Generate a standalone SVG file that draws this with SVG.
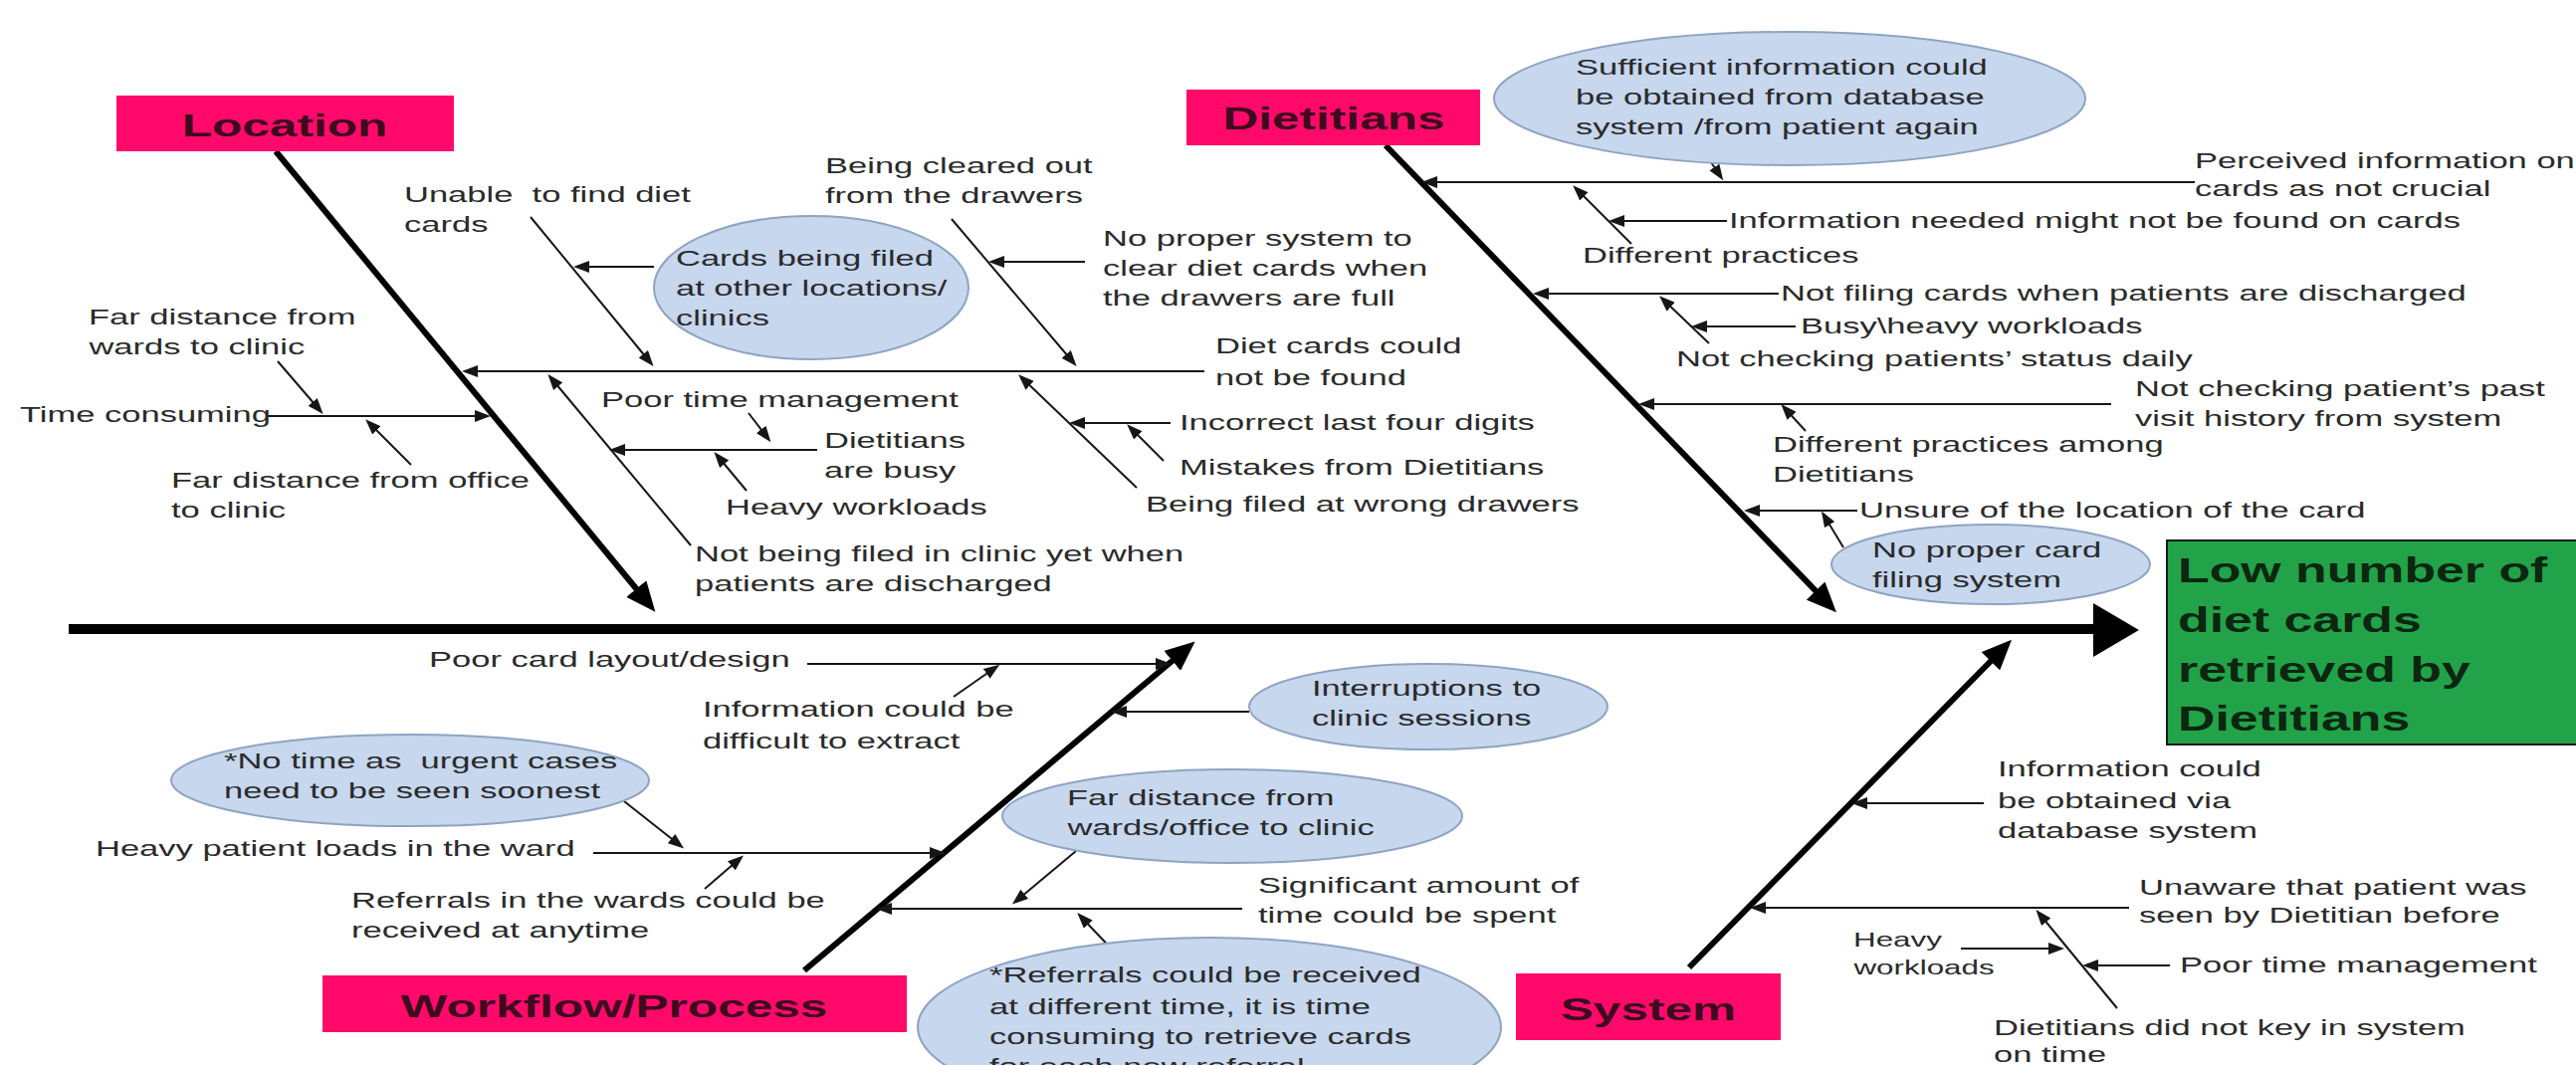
<svg xmlns="http://www.w3.org/2000/svg" width="2588" height="1070" viewBox="0 0 2588 1070">
<defs>
<style>
.t{font-family:"Liberation Sans",Arial,sans-serif;font-size:22px;fill:#2a2a2a;transform-box:fill-box;transform-origin:0 0;transform:scaleX(1.57);}
.s{font-size:20px;}
.h{font-family:"Liberation Sans",Arial,sans-serif;font-size:32px;font-weight:bold;fill:#3e0a1e;text-anchor:middle;transform-box:fill-box;transform-origin:50% 0;transform:scaleX(1.55);}
.g{font-family:"Liberation Sans",Arial,sans-serif;font-size:36px;font-weight:bold;fill:#0c2610;transform-box:fill-box;transform-origin:0 0;transform:scaleX(1.44);}
.box{fill:#ff0a6a;}
.ell{fill:#c6d7ee;stroke:#8fa3c2;stroke-width:2;}
.ln{stroke:#161616;stroke-width:2;fill:none;marker-end:url(#ah);}
.thick{stroke:#000;stroke-width:6;fill:none;marker-end:url(#bh);}
</style>
<marker id="ah" markerUnits="userSpaceOnUse" markerWidth="16" markerHeight="12" refX="12" refY="6" orient="auto"><path d="M0,0 L16,6 L0,12 z" fill="#161616"/></marker>
<marker id="bh" markerUnits="userSpaceOnUse" markerWidth="30" markerHeight="26" refX="20" refY="13" orient="auto"><path d="M0,0 L30,13 L0,26 z" fill="#000"/></marker>
</defs>
<rect x="0" y="0" width="2588" height="1070" fill="#fff"/>

<g id="connectors">
<line x1="69" y1="632" x2="2105" y2="632" stroke="#000" stroke-width="10"/>
<polygon points="2103,606 2149,633 2103,660" fill="#000"/>
<path class="thick" d="M277,152 L652,607"/>
<path class="thick" d="M1392,146 L1838,608"/>
<path class="thick" d="M808,975 L1193,651"/>
<path class="thick" d="M1697,972 L2014,650"/>
<path class="ln" d="M1210,373 L468,373"/>
<path class="ln" d="M533,218 L654,365"/>
<path class="ln" d="M657,268 L580,268"/>
<path class="ln" d="M956,220 L1079,365"/>
<path class="ln" d="M1090,263 L997,263"/>
<path class="ln" d="M268,418 L489,418"/>
<path class="ln" d="M279,363 L322,413"/>
<path class="ln" d="M413,467 L370,424"/>
<path class="ln" d="M694,548 L553,379"/>
<path class="ln" d="M821,452 L616,452"/>
<path class="ln" d="M752,415 L772,441"/>
<path class="ln" d="M750,493 L720,457"/>
<path class="ln" d="M1142,490 L1026,379"/>
<path class="ln" d="M1176,425 L1078,425"/>
<path class="ln" d="M1169,463 L1135,429"/>
<path class="ln" d="M2205,183 L1432,183"/>
<path class="ln" d="M1717,160 L1729,178"/>
<path class="ln" d="M1639,245 L1583,189"/>
<path class="ln" d="M1735,222 L1620,222"/>
<path class="ln" d="M1787,295 L1544,295"/>
<path class="ln" d="M1804,328 L1703,328"/>
<path class="ln" d="M1717,345 L1670,300"/>
<path class="ln" d="M2121,406 L1650,406"/>
<path class="ln" d="M1814,433 L1792,409"/>
<path class="ln" d="M1866,513 L1756,513" stroke-width="3"/>
<path class="ln" d="M1852,550 L1832,517"/>
<path class="ln" d="M811,667 L1173,667"/>
<path class="ln" d="M958,700 L1001,670"/>
<path class="ln" d="M1255,715 L1120,715"/>
<path class="ln" d="M596,857 L946,857"/>
<path class="ln" d="M627,805 L684,850"/>
<path class="ln" d="M708,893 L744,862"/>
<path class="ln" d="M1248,913 L884,913"/>
<path class="ln" d="M1081,855 L1020,906"/>
<path class="ln" d="M1123,960 L1085,920"/>
<path class="ln" d="M1993,807 L1864,807"/>
<path class="ln" d="M2139,912 L1762,912"/>
<path class="ln" d="M1970,953 L2070,953"/>
<path class="ln" d="M2180,970 L2096,970"/>
<path class="ln" d="M2127,1013 L2048,917"/>
</g>

<g id="location"><rect class="box" x="117" y="96" width="339" height="56"/><text class="h" x="286" y="137">Location</text></g>
<g id="dietitians"><rect class="box" x="1192" y="90" width="295" height="56"/><text class="h" x="1340" y="130">Dietitians</text></g>
<g id="workflow"><rect class="box" x="324" y="980" width="587" height="57"/><text class="h" x="617" y="1022">Workflow/Process</text></g>
<g id="system"><rect class="box" x="1523" y="978" width="266" height="67"/><text class="h" x="1656" y="1025">System</text></g>
<g id="effect"><rect x="2177" y="543" width="420" height="205" fill="#22a34a" stroke="#1a1a1a" stroke-width="2"/>
<text class="g" x="2188" y="585">Low number of</text><text class="g" x="2188" y="635">diet cards</text><text class="g" x="2188" y="685">retrieved by</text><text class="g" x="2188" y="734">Dietitians</text></g>

<g id="l-unable"><text class="t" x="406" y="203" xml:space="preserve">Unable  to find diet</text><text class="t" x="406" y="233">cards</text></g>
<g id="l-cleared"><text class="t" x="829" y="174">Being cleared out</text><text class="t" x="829" y="204">from the drawers</text></g>
<g id="l-nosystem"><text class="t" x="1108" y="247">No proper system to</text><text class="t" x="1108" y="277">clear diet cards when</text><text class="t" x="1108" y="307">the drawers are full</text></g>
<g id="l-cardsfiled"><ellipse class="ell" cx="815" cy="289" rx="158" ry="72"/><text class="t" x="679" y="267">Cards being filed</text><text class="t" x="679" y="297">at other locations/</text><text class="t" x="679" y="327">clinics</text></g>
<g id="l-farwards"><text class="t" x="89" y="326">Far distance from</text><text class="t" x="89" y="356">wards to clinic</text></g>
<g id="l-dietcards"><text class="t" x="1221" y="355">Diet cards could</text><text class="t" x="1221" y="387">not be found</text></g>
<g id="l-time"><text class="t" x="20" y="424">Time consuming</text></g>
<g id="l-poortime"><text class="t" x="604" y="409">Poor time management</text></g>
<g id="l-busy"><text class="t" x="828" y="450">Dietitians</text><text class="t" x="828" y="480">are busy</text></g>
<g id="l-incorrect"><text class="t" x="1185" y="432">Incorrect last four digits</text></g>
<g id="l-mistakes"><text class="t" x="1185" y="477">Mistakes from Dietitians</text></g>
<g id="l-faroffice"><text class="t" x="172" y="490">Far distance from office</text><text class="t" x="172" y="520">to clinic</text></g>
<g id="l-heavy"><text class="t" x="729" y="517">Heavy workloads</text></g>
<g id="l-wrong"><text class="t" x="1151" y="514">Being filed at wrong drawers</text></g>
<g id="l-notfiled"><text class="t" x="698" y="564">Not being filed in clinic yet when</text><text class="t" x="698" y="594">patients are discharged</text></g>

<g id="d-sufficient"><ellipse class="ell" cx="1798" cy="99" rx="297" ry="67"/><text class="t" x="1583" y="75">Sufficient information could</text><text class="t" x="1583" y="105">be obtained from database</text><text class="t" x="1583" y="135">system /from patient again</text></g>
<g id="d-perceived"><text class="t" x="2205" y="169">Perceived information on</text><text class="t" x="2205" y="197">cards as not crucial</text></g>
<g id="d-infoneeded"><text class="t" x="1737" y="229">Information needed might not be found on cards</text></g>
<g id="d-diffprac"><text class="t" x="1590" y="264">Different practices</text></g>
<g id="d-notfiling"><text class="t" x="1789" y="302">Not filing cards when patients are discharged</text></g>
<g id="d-busy"><text class="t" x="1809" y="335">Busy\heavy workloads</text></g>
<g id="d-daily"><text class="t" x="1684" y="368">Not checking patients’ status daily</text></g>
<g id="d-past"><text class="t" x="2145" y="398">Not checking patient’s past</text><text class="t" x="2145" y="428">visit history from system</text></g>
<g id="d-among"><text class="t" x="1781" y="454">Different practices among</text><text class="t" x="1781" y="484">Dietitians</text></g>
<g id="d-unsure"><text class="t" x="1868" y="520">Unsure of the location of the card</text></g>
<g id="d-noproper"><ellipse class="ell" cx="2000" cy="567" rx="160" ry="40"/><text class="t" x="1881" y="560">No proper card</text><text class="t" x="1881" y="590">filing system</text></g>

<g id="w-layout"><text class="t" x="431" y="670">Poor card layout/design</text></g>
<g id="w-extract"><text class="t" x="706" y="720">Information could be</text><text class="t" x="706" y="752">difficult to extract</text></g>
<g id="w-interrupt"><ellipse class="ell" cx="1435" cy="710" rx="180" ry="43"/><text class="t" x="1318" y="699">Interruptions to</text><text class="t" x="1318" y="729">clinic sessions</text></g>
<g id="w-notime"><ellipse class="ell" cx="412" cy="784" rx="240" ry="46"/><text class="t" x="225" y="772" xml:space="preserve">*No time as  urgent cases</text><text class="t" x="225" y="802">need to be seen soonest</text></g>
<g id="w-heavyload"><text class="t" x="96" y="860">Heavy patient loads in the ward</text></g>
<g id="w-fardist"><ellipse class="ell" cx="1238" cy="820" rx="231" ry="47"/><text class="t" x="1072" y="809">Far distance from</text><text class="t" x="1072" y="839">wards/office to clinic</text></g>
<g id="w-referrals"><text class="t" x="353" y="912">Referrals in the wards could be</text><text class="t" x="353" y="942">received at anytime</text></g>
<g id="w-significant"><text class="t" x="1264" y="897">Significant amount of</text><text class="t" x="1264" y="927">time could be spent</text></g>
<g id="w-diff"><ellipse class="ell" cx="1215" cy="1032" rx="293" ry="90"/><text class="t" x="994" y="987">*Referrals could be received</text><text class="t" x="994" y="1019">at different time, it is time</text><text class="t" x="994" y="1049">consuming to retrieve cards</text><text class="t" x="994" y="1079">for each new referral</text></g>

<g id="s-info"><text class="t" x="2007" y="780">Information could</text><text class="t" x="2007" y="812">be obtained via</text><text class="t" x="2007" y="842">database system</text></g>
<g id="s-unaware"><text class="t" x="2149" y="899">Unaware that patient was</text><text class="t" x="2149" y="927">seen by Dietitian before</text></g>
<g id="s-heavy"><text class="t s" x="1862" y="951">Heavy</text><text class="t s" x="1862" y="979">workloads</text></g>
<g id="s-poortime"><text class="t" x="2190" y="977">Poor time management</text></g>
<g id="s-nokey"><text class="t" x="2003" y="1040">Dietitians did not key in system</text><text class="t" x="2003" y="1067">on time</text></g>
</svg>
